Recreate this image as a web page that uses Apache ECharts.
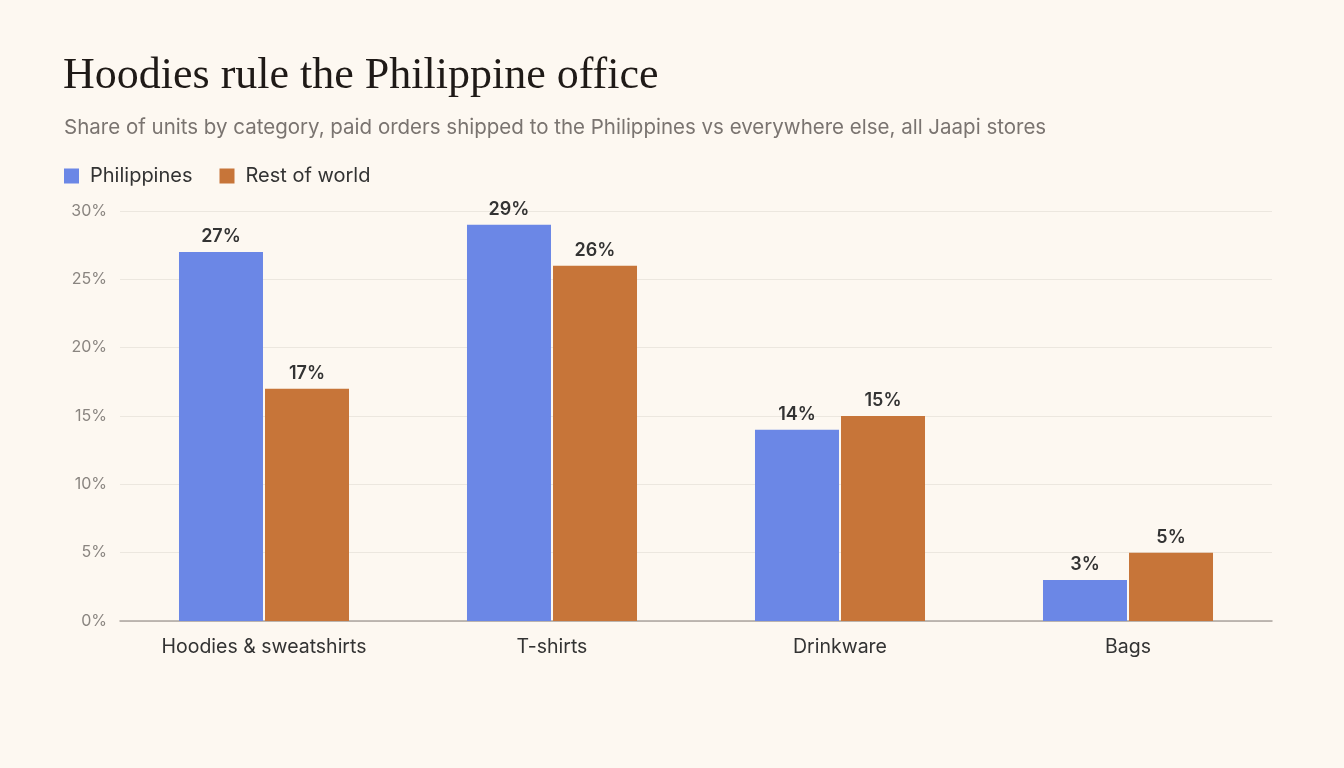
<!DOCTYPE html>
<html>
<head>
<meta charset="utf-8">
<script src="https://cdn.jsdelivr.net/npm/echarts@6/dist/echarts.min.js"></script>
<style>
  html, body { margin: 0; padding: 0; background: #fdf8f1; }
  #chart { width: 1344px; height: 768px; }
</style>
</head>
<body>
<div id="chart"></div>
<script>
const categories = ['Hoodies & sweatshirts', 'T-shirts', 'Drinkware', 'Bags'];
const philippines = [27, 29, 14, 3];
const restOfWorld = [17, 26, 15, 5];
const yTicks = [0, 5, 10, 15, 20, 25, 30];

const sans = 'Inter, "Noto Sans", sans-serif';

const chart = echarts.init(document.getElementById('chart'));

const labelStyle = {
    show: true,
    position: 'top',
    distance: 6,
    formatter: p => p.value + '%',
    color: '#333',
    fontFamily: sans,
    fontSize: 18,
    fontWeight: 600
};

chart.setOption({
    backgroundColor: '#fdf8f1',
    title: [
        {
            text: 'Hoodies rule the Philippine office',
            left: 63, top: 54, padding: 0,
            textStyle: { fontFamily: '"Liberation Serif", "DejaVu Serif", serif', fontSize: 44, fontWeight: 'normal', color: '#1f1a17' }
        },
        {
            text: 'Share of units by category, paid orders shipped to the Philippines vs everywhere else, all Jaapi stores',
            left: 64, top: 117, padding: 0,
            textStyle: { fontFamily: sans, fontSize: 20.5, fontWeight: 'normal', color: '#7a7470' }
        }
    ],
    legend: {
        left: 64, top: 166, padding: 0,
        icon: 'rect',
        itemWidth: 15, itemHeight: 15, itemGap: 27,
        textStyle: { fontFamily: sans, fontSize: 20, color: '#333', padding: [0, 0, 0, 6] },
        data: ['Philippines', 'Rest of world']
    },
    grid: { left: 120, right: 72, top: 211, bottom: 147, containLabel: false },
    xAxis: {
        type: 'category',
        data: categories,
        axisLine: { lineStyle: { color: '#aaa49e', width: 1.5 } },
        axisTick: { show: false },
        axisLabel: { fontFamily: sans, fontSize: 19.5, color: '#333', margin: 16 }
    },
    yAxis: {
        type: 'value',
        min: yTicks[0],
        max: yTicks[yTicks.length - 1],
        interval: 5,
        axisLine: { show: false },
        axisTick: { show: false },
        splitLine: { lineStyle: { color: '#ece7df', width: 1 } },
        axisLabel: { fontFamily: sans, fontSize: 16, color: '#8a8580', margin: 13, formatter: v => v + '%' }
    },
    series: [
        {
            name: 'Philippines', type: 'bar', data: philippines,
            barWidth: 84, barGap: '2.4%',
            itemStyle: { color: '#6b87e6' },
            label: labelStyle
        },
        {
            name: 'Rest of world', type: 'bar', data: restOfWorld,
            barWidth: 84,
            itemStyle: { color: '#c77539' },
            label: labelStyle
        }
    ]
});
</script>
</body>
</html>
